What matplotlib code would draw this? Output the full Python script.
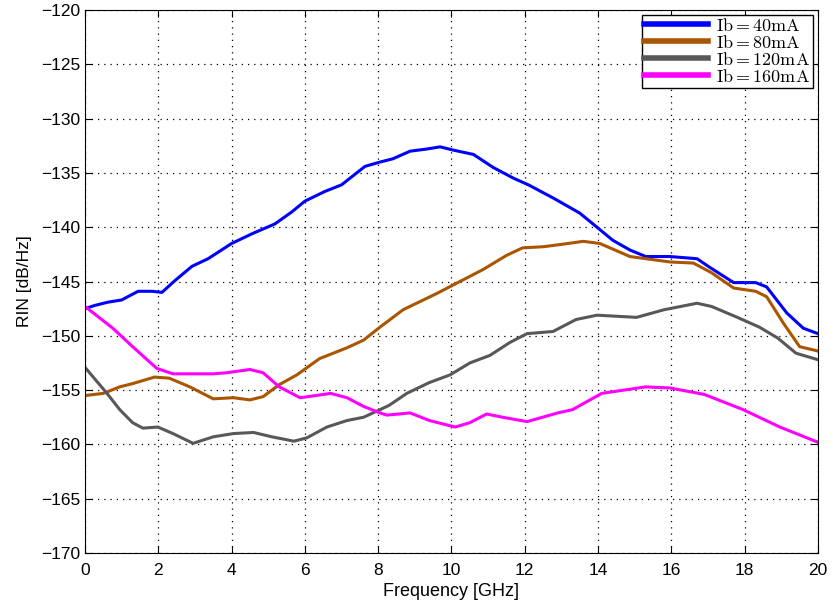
import matplotlib
matplotlib.use('Agg')
import matplotlib.pyplot as plt

# valores (frecuencia en GHz, RIN en dB/Hz)
f_40 = [0, 0.27, 0.63, 1.0, 1.45, 1.83, 2.1, 2.46, 2.92, 3.36, 4.0, 4.56, 5.18, 5.64, 6.0, 6.55,
        7.0, 7.64, 8.05, 8.4, 8.87, 9.33, 9.69, 10.05, 10.6, 11.14, 11.7, 12.1, 12.77, 13.5,
        13.97, 14.4, 14.87, 15.3, 15.96, 16.7, 17.05, 17.7, 18.3, 18.6, 19.15, 19.6, 20]
rin_40 = [-147.5, -147.2, -146.9, -146.7, -145.9, -145.9, -146.0, -144.9, -143.6, -142.9, -141.5,
          -140.6, -139.7, -138.6, -137.6, -136.7, -136.1, -134.4, -134.0, -133.7, -133.0, -132.8,
          -132.6, -132.9, -133.3, -134.5, -135.5, -136.1, -137.3, -138.7, -140.0, -141.2, -142.1,
          -142.7, -142.7, -142.9, -143.7, -145.1, -145.1, -145.5, -147.9, -149.3, -149.8]

f_80 = [0, 0.5, 0.95, 1.3, 1.9, 2.3, 2.86, 3.5, 4.05, 4.5, 4.86, 5.3, 5.78, 6.4, 7.15, 7.6, 8.05,
        8.68, 9.6, 10.86, 11.5, 11.94, 12.5, 12.96, 13.6, 14.05, 14.87, 15.96, 16.6, 17.1, 17.7,
        18.3, 18.6, 19.05, 19.5, 20]
rin_80 = [-155.5, -155.3, -154.7, -154.4, -153.8, -153.9, -154.7, -155.8, -155.7, -155.9, -155.6,
          -154.5, -153.6, -152.1, -151.1, -150.4, -149.2, -147.6, -146.1, -143.9, -142.6, -141.9,
          -141.8, -141.6, -141.3, -141.5, -142.7, -143.2, -143.3, -144.2, -145.6, -145.9, -146.4,
          -148.8, -151.0, -151.4]

f_120 = [0, 0.6, 0.95, 1.3, 1.58, 1.99, 2.4, 2.95, 3.5, 4.05, 4.6, 5.1, 5.7, 6.05, 6.6, 7.15, 7.6,
         8.05, 8.3, 8.78, 9.4, 9.96, 10.5, 11.05, 11.6, 12.06, 12.77, 13.4, 13.97, 15.05, 15.8,
         16.7, 17.1, 17.8, 18.4, 18.9, 19.4, 20]
rin_120 = [-152.9, -155.3, -156.8, -158.0, -158.5, -158.4, -159.0, -159.9, -159.3, -159.0, -158.9,
           -159.3, -159.7, -159.4, -158.4, -157.8, -157.5, -156.8, -156.4, -155.3, -154.3, -153.6,
           -152.5, -151.8, -150.6, -149.8, -149.6, -148.5, -148.1, -148.3, -147.6, -147.0, -147.3,
           -148.3, -149.2, -150.2, -151.6, -152.2]

f_160 = [0, 0.76, 1.3, 1.96, 2.4, 3.5, 3.87, 4.5, 4.86, 5.3, 5.87, 6.3, 6.7, 7.15, 7.6, 8.05, 8.24,
         8.87, 9.4, 10.1, 10.5, 10.96, 11.4, 12.06, 12.9, 13.3, 14.1, 15.3, 15.96, 16.9, 17.96,
         18.96, 20]
rin_160 = [-147.3, -149.3, -151.0, -153.0, -153.5, -153.5, -153.4, -153.1, -153.4, -154.7, -155.7,
           -155.5, -155.3, -155.7, -156.5, -157.1, -157.3, -157.1, -157.8, -158.4, -158.0, -157.2,
           -157.5, -157.9, -157.1, -156.8, -155.3, -154.7, -154.8, -155.4, -156.8, -158.4, -159.8]

etiquetas = ['40', '80', '120', '160']
colores = ['#0000ff', '#aa5500', '#585858', '#ff00ff']

plt.rcParams['font.family'] = ['Liberation Sans', 'DejaVu Sans']
plt.rcParams['mathtext.fontset'] = 'cm'

fig = plt.figure(figsize=(8.38, 6.10), dpi=100)
ax = fig.add_axes([0.1014, 0.0934, 0.8747, 0.8902])

series = [(f_40, rin_40), (f_80, rin_80), (f_120, rin_120), (f_160, rin_160)]
for (f, r), lab, c in zip(series, etiquetas, colores):
    ax.plot(f, r, color=c, linewidth=2.2,
            label=r'$\mathrm{Ib} = ' + lab + r'\mathrm{mA}$')

ax.set_xlim(0, 20)
ax.set_ylim(-170, -120)
ax.set_xticks(range(0, 21, 2))
ax.set_yticks(range(-170, -119, 5))
ax.tick_params(direction='in', labelsize=12.5, length=5, top=True, right=True)
ax.tick_params(axis='x', pad=7)
ax.grid(True, color='black', linestyle=(0, (1, 4)), linewidth=0.9)
ax.set_xlabel('Frequency [GHz]', fontsize=13, labelpad=4)
ax.set_ylabel('RIN [dB/Hz]', fontsize=12.5, labelpad=6)

leg = ax.legend(loc='upper right', fontsize=13, handlelength=3.55, labelspacing=0.0,
                borderpad=0.12, handletextpad=0.45, fancybox=False, framealpha=1,
                edgecolor='black', borderaxespad=0.3)
leg.get_frame().set_linewidth(1.0)
for linea in leg.get_lines():
    linea.set_linewidth(4)

fig.savefig('out.png', dpi=100)
